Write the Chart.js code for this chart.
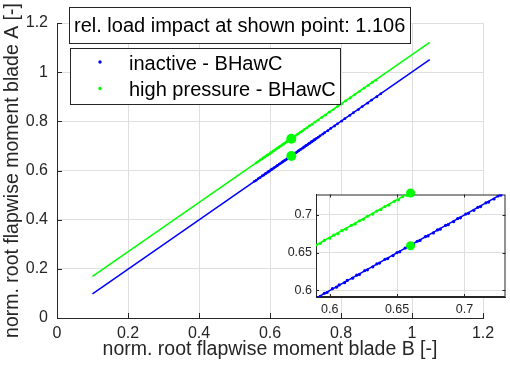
<!DOCTYPE html>
<html>
<head>
<meta charset="utf-8">
<script src="https://cdn.jsdelivr.net/npm/chart.js@4"></script>
<style>
  body { margin: 0; background: #fff; }
  #wrap { position: relative; width: 510px; height: 373px; }
  #main { position: absolute; left: 0; top: 0; width: 510px; height: 373px; }
  #inset { position: absolute; left: 280px; top: 183px; width: 230px; height: 134px; }
</style>
</head>
<body>
<div id="wrap">
  <canvas id="main" width="510" height="373"></canvas>
  <canvas id="inset" width="230" height="134"></canvas>
</div>
<script>
// DATA
const blueX = [0.556, 0.561, 0.567, 0.572, 0.578, 0.582, 0.586, 0.589, 0.593, 0.596,
    0.598, 0.602, 0.605, 0.607, 0.611, 0.613, 0.617, 0.620, 0.622, 0.626,
    0.628, 0.632, 0.635, 0.637, 0.641, 0.643, 0.647, 0.650, 0.652, 0.656,
    0.658, 0.662, 0.665, 0.667, 0.671, 0.673, 0.677, 0.680, 0.682, 0.686,
    0.688, 0.692, 0.695, 0.697, 0.701, 0.703, 0.707, 0.710, 0.712, 0.716,
    0.718, 0.722, 0.725, 0.727, 0.731, 0.736, 0.741, 0.749, 0.754, 0.763,
    0.771, 0.782, 0.790, 0.802, 0.811, 0.825, 0.835, 0.849, 0.860, 0.875,
    0.886, 0.901, 0.912];
const blueY = [0.556, 0.560, 0.567, 0.571, 0.578, 0.581, 0.586, 0.588, 0.592, 0.596,
    0.597, 0.602, 0.604, 0.607, 0.610, 0.613, 0.616, 0.620, 0.621, 0.626,
    0.627, 0.631, 0.635, 0.636, 0.641, 0.642, 0.646, 0.650, 0.651, 0.656,
    0.657, 0.661, 0.665, 0.666, 0.671, 0.672, 0.676, 0.680, 0.681, 0.686,
    0.687, 0.691, 0.695, 0.696, 0.701, 0.702, 0.706, 0.710, 0.711, 0.716,
    0.717, 0.721, 0.725, 0.726, 0.731, 0.735, 0.741, 0.748, 0.754, 0.762,
    0.771, 0.781, 0.790, 0.801, 0.811, 0.824, 0.835, 0.848, 0.860, 0.874,
    0.886, 0.900, 0.912];
const greenX = [0.562, 0.568, 0.573, 0.578, 0.582, 0.586, 0.590, 0.593, 0.596, 0.600,
    0.603, 0.606, 0.609, 0.612, 0.616, 0.619, 0.622, 0.625, 0.628, 0.632,
    0.635, 0.638, 0.641, 0.644, 0.648, 0.651, 0.654, 0.657, 0.660, 0.664,
    0.667, 0.671, 0.676, 0.680, 0.686, 0.691, 0.697, 0.704, 0.711, 0.719,
    0.727, 0.736, 0.746, 0.756, 0.767, 0.778, 0.790, 0.801, 0.813, 0.826,
    0.839, 0.852, 0.865, 0.877, 0.889, 0.898];
const greenY = [0.632, 0.637, 0.643, 0.647, 0.652, 0.655, 0.660, 0.662, 0.666, 0.669,
    0.673, 0.675, 0.679, 0.681, 0.686, 0.688, 0.692, 0.694, 0.698, 0.701,
    0.705, 0.707, 0.711, 0.713, 0.718, 0.720, 0.724, 0.726, 0.730, 0.733,
    0.737, 0.740, 0.746, 0.749, 0.756, 0.760, 0.767, 0.773, 0.781, 0.788,
    0.797, 0.805, 0.816, 0.825, 0.837, 0.847, 0.860, 0.870, 0.883, 0.895,
    0.909, 0.921, 0.935, 0.946, 0.959, 0.967];

const blueFitX = [0.1, 1.05];
const blueFitY = [0.098, 1.051];
const greenFitX = [0.1, 1.05];
const greenFitY = [0.169, 1.121];

const shownX = [0.66, 0.66];
const shownY = [0.659, 0.729];

const mainXTicks = [0, 0.2, 0.4, 0.6, 0.8, 1, 1.2];
const mainYTicks = [0, 0.2, 0.4, 0.6, 0.8, 1, 1.2];
const insetXTicks = [0.6, 0.65, 0.7];
const insetYTicks = [0.6, 0.65, 0.7];

const legendLabels = ['inactive - BHawC', 'high pressure - BHawC'];
const infoText = 'rel. load impact at shown point: 1.106';

const BLUE = '#0000ff';
const GREEN = '#00ff00';
const AXIS = '#262626';
const GRID = '#dfdfdf';
const FONT = '"Liberation Sans", Arial, Helvetica, sans-serif';

Chart.defaults.font.family = FONT;
Chart.defaults.color = AXIS;

//GENERAL FUNCTIONS
function toXY(xs, ys) {
    return xs.map((x, i) => ({ x: x, y: ys[i] }));
}

function fmt(v) {
    return String(Math.round(v * 1000) / 1000);
}

function makeDatasets(dotR, markR) {
    return [
        { data: toXY(shownX, shownY), showLine: false, pointRadius: markR, pointBackgroundColor: GREEN, pointBorderWidth: 0, order: 0, clip: false },
        { data: toXY(greenX, greenY), showLine: false, pointRadius: dotR, pointBackgroundColor: GREEN, pointBorderWidth: 0, order: 1 },
        { data: toXY(blueX, blueY), showLine: false, pointRadius: dotR, pointBackgroundColor: BLUE, pointBorderWidth: 0, order: 1 },
        { data: toXY(greenFitX, greenFitY), showLine: true, pointRadius: 0, borderColor: GREEN, borderWidth: 1.5, order: 2 },
        { data: toXY(blueFitX, blueFitY), showLine: true, pointRadius: 0, borderColor: BLUE, borderWidth: 1.5, order: 2 }
    ];
}

function makeScale(min, max, ticks, fontSize, pad, title, extra) {
    return Object.assign({
        type: 'linear', min: min, max: max,
        afterBuildTicks: s => { s.ticks = ticks.map(v => ({ value: v })); },
        grid: { color: GRID, drawTicks: false, lineWidth: 1 },
        border: { display: true, color: AXIS, width: 1 },
        ticks: { font: { size: fontSize }, color: AXIS, padding: pad, maxRotation: 0, callback: v => fmt(v) },
        title: title
    }, extra);
}

// inward tick marks (and box for the inset)
function tickPlugin(allSides, len) {
    return {
        id: 'innerTicks',
        beforeDatasetsDraw(chart) {
            const { ctx, chartArea: a, scales: { x, y } } = chart;
            ctx.save();
            ctx.strokeStyle = AXIS;
            ctx.lineWidth = 1;
            ctx.beginPath();
            x.ticks.forEach(t => {
                const px = Math.round(x.getPixelForValue(t.value)) + 0.5;
                ctx.moveTo(px, a.bottom); ctx.lineTo(px, a.bottom - len);
                if (allSides) { ctx.moveTo(px, a.top); ctx.lineTo(px, a.top + len); }
            });
            y.ticks.forEach(t => {
                const py = Math.round(y.getPixelForValue(t.value)) + 0.5;
                ctx.moveTo(a.left, py); ctx.lineTo(a.left + len, py);
                if (allSides) { ctx.moveTo(a.right, py); ctx.lineTo(a.right - len, py); }
            });
            ctx.stroke();
            if (allSides) ctx.strokeRect(a.left + 0.5, a.top + 0.5, a.width - 1, a.height - 1);
            ctx.restore();
        }
    };
}

// text box and legend inside the main axes
const annotPlugin = {
    id: 'annot',
    afterDraw(chart) {
        const ctx = chart.ctx;
        ctx.save();
        ctx.fillStyle = '#fff';
        ctx.strokeStyle = AXIS;
        ctx.lineWidth = 1;
        // info box
        ctx.fillRect(69.5, 7.5, 341, 36);
        ctx.strokeRect(69.5, 7.5, 341, 36);
        // legend box
        ctx.fillRect(70.5, 48.5, 270, 56);
        ctx.strokeRect(70.5, 48.5, 270, 56);
        ctx.fillStyle = '#000';
        ctx.font = '20px ' + FONT;
        ctx.textBaseline = 'middle';
        ctx.fillText(infoText, 74, 26);
        const colors = [BLUE, GREEN];
        legendLabels.forEach((lab, i) => {
            const cy = 64 + i * 26.5;
            ctx.fillStyle = colors[i];
            ctx.beginPath();
            ctx.arc(100, cy - 2, 1.7, 0, Math.PI * 2);
            ctx.fill();
            ctx.fillStyle = '#000';
            ctx.fillText(lab, 129, cy);
        });
        ctx.restore();
    }
};

const insetBg = {
    id: 'insetBg',
    beforeDraw(chart) {
        const { ctx, chartArea: a } = chart;
        ctx.save();
        ctx.fillStyle = '#fff';
        ctx.fillRect(a.left, a.top, a.width, a.height);
        ctx.restore();
    }
};

//MAIN
const mainChart = new Chart(document.getElementById('main'), {
    type: 'scatter',
    data: { datasets: makeDatasets(1.4, 5) },
    options: {
        responsive: false, animation: false, devicePixelRatio: 1, events: [],
        layout: { padding: { left: 0, top: 23, right: 27, bottom: 0 } },
        plugins: { legend: { display: false }, tooltip: { enabled: false } },
        scales: {
            x: makeScale(0, 1.2, mainXTicks, 16, 6,
                { display: true, text: 'norm. root flapwise moment blade B [-]', font: { size: 19.5 }, color: AXIS, padding: { top: 0, bottom: 12 } },
                { afterFit: s => { s.height = 55; } }),
            y: makeScale(0, 1.2, mainYTicks, 16, 9,
                { display: true, text: 'norm. root flapwise moment blade A [-]', font: { size: 19.5 }, color: AXIS, padding: { top: 1, bottom: 0 } },
                { afterFit: s => { s.width = 57; } })
        }
    },
    plugins: [tickPlugin(false, 5), annotPlugin]
});

//INSET
const insetChart = new Chart(document.getElementById('inset'), {
    type: 'scatter',
    data: { datasets: makeDatasets(1.6, 4.5) },
    options: {
        responsive: false, animation: false, devicePixelRatio: 1, events: [],
        layout: { padding: { left: 0, top: 2, right: 2, bottom: 0 } },
        plugins: { legend: { display: false }, tooltip: { enabled: false } },
        scales: {
            x: makeScale(0.5898, 0.7305, insetXTicks, 12.5, 5, { display: false },
                { afterFit: s => { s.height = 20; } }),
            y: makeScale(0.591, 0.727, insetYTicks, 12.5, 4, { display: false },
                { afterFit: s => { s.width = 36; } })
        }
    },
    plugins: [insetBg, tickPlugin(true, 3)]
});
</script>
</body>
</html>
